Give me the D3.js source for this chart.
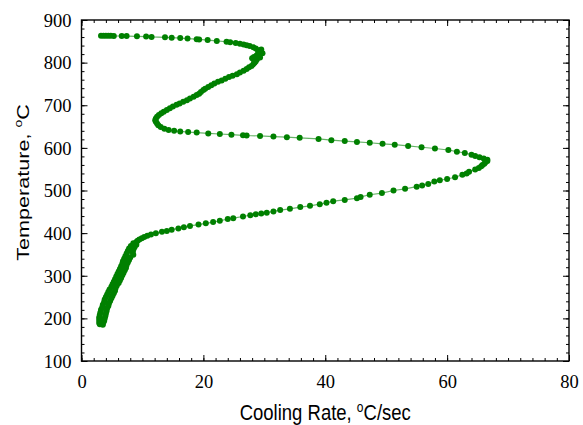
<!DOCTYPE html>
<html>
<head>
<meta charset="utf-8">
<script src="https://cdn.jsdelivr.net/npm/d3@7"></script>
<style>
  html, body { margin: 0; padding: 0; background: #fff; }
  svg { display: block; }
</style>
</head>
<body>
<svg id="chart" width="583" height="425"></svg>
<script>
// ---- Data ----
const coolingRate = [
  3.2,3.6,4.0,4.4,4.8,5.3,6.6,7.4,9.1,10.6,11.5,13.7,14.8,16.2,17.4,18.9,19.3,20.7,22.2,23.8,
  24.4,25.3,26.0,26.6,27.1,27.6,28.2,28.6,29.5,29.0,29.4,29.0,29.7,29.2,28.9,28.7,28.3,29.3,28.0,28.8,
  28.3,28.6,28.4,28.2,27.9,27.5,27.1,26.6,26.0,25.5,24.8,24.2,23.6,23.0,22.4,21.8,21.3,20.8,20.3,20.0,
  19.6,19.3,18.9,18.4,17.8,17.3,16.7,16.1,15.6,15.0,14.5,14.0,13.5,13.1,12.7,12.4,12.2,12.1,12.2,12.4,
  12.6,13.0,13.6,14.3,15.2,16.2,17.5,18.9,20.8,22.7,24.6,26.5,27.1,29.3,31.5,33.7,35.8,38.9,41.0,43.2,
  45.2,47.3,49.4,51.4,53.6,55.8,58.0,60.2,61.6,62.9,64.0,64.6,65.3,66.0,66.6,66.6,66.3,66.1,65.8,65.6,
  65.2,64.6,63.6,63.2,62.5,61.3,60.0,58.8,57.9,56.9,55.9,55.0,53.1,51.2,49.3,47.3,45.8,45.2,43.2,41.3,
  40.2,39.1,37.5,35.9,34.2,32.6,31.5,30.4,29.5,28.6,27.7,26.5,24.9,24.0,22.7,21.6,20.4,19.2,17.8,16.8,
  15.9,14.8,14.0,13.2,12.2,11.4,10.8,10.3,9.9,9.5,9.2,9.0,8.5,9.0,8.1,8.7,7.8,8.5,7.6,8.4,
  7.4,8.5,7.2,8.0,7.0,7.8,6.8,7.6,6.7,7.4,6.5,7.3,6.3,7.1,6.1,6.9,5.9,6.7,5.7,6.5,
  5.5,6.3,5.3,6.1,5.1,5.8,4.9,5.6,4.6,5.5,4.4,5.3,4.2,5.1,4.0,4.9,3.8,4.7,3.7,4.5,
  3.5,4.4,3.4,4.2,3.2,4.1,3.1,4.0,3.0,3.9,2.9,3.8,2.9,3.7,2.9,3.5,3.0,3.5
];
const temperature = [
  863,863,863.2,863,862.8,862.6,862.5,862.3,861.7,861,860.3,859.3,858.5,857.5,856.5,855,854.5,853,851,849,
  848,846,844.5,842.5,841,839,836,833,831,829,826,824,822,819,818,816,813,812,810,808,
  806,803,800,796,792,789,785,781,777,773,769,766,762,758,755,751,747,743,739,736,
  731,727,724,720,716,712,708,704,701,697,693,689,685,681,677,673,669,665,661,657,
  653,649,645,642,640,638.5,637,636,634,632.5,631,629.5,629,628,626.5,625,623.5,621,618,616,
  614,612,609.5,607.5,604.5,601.5,598.5,595,591,588,584,581,578,575,572,569,566,563,560,557,
  553,549,544,540,537,531,527,524,521,515,512,509,504,500,494,490,485,482,478,475,
  471,468,464,461,457,454,451,448,446,444,442,439,435,433,429,426,423,420,417,414,
  411,408,405,403,400,397,394,391,388,385,382,379,376,373,370,367,364,361,358,355,
  352,349,346,343,340,337,334,331,328,325,322,319,316,313,310,307,304,301,298,295,
  292,289,286,283,280,277,274,271,268,265,262,259,256,253,250,247,244,241,238,235,
  232,229,226,223,220,217,214,211,208,205,202,199,196,193,190,188,186,185
];
const xTickLabels = [0, 20, 40, 60, 80];
const yTickLabels = [100, 200, 300, 400, 500, 600, 700, 800, 900];
const xMinorTicks = d3.range(0, 81, 2);
const yMinorTicks = d3.range(100, 901, 20);

(function () {
const points = coolingRate.map((c, i) => ({x: c, y: temperature[i]}));

// ---- Layout ----
const svg = d3.select("#chart");
const pL = 81.5, pR = 569, pT = 20, pB = 361;

const x = d3.scaleLinear().domain([0, 80]).range([pL, pR]);
const y = d3.scaleLinear().domain([100, 900]).range([pB, pT]);

const serif = "'Liberation Serif', 'Times New Roman', serif";
const sans = "'Liberation Sans', Arial, sans-serif";

function drawAxis(axisGen, transform, vals, size, labels) {
  const g = svg.append("g").attr("transform", transform)
    .call(axisGen.tickValues(vals).tickSizeInner(size).tickSizeOuter(0).tickFormat(labels ? d3.format("d") : ""));
  g.select(".domain").remove();
  g.selectAll(".tick line").attr("stroke", "#000").attr("stroke-width", 1);
  return g;
}

// minor ticks (all four sides, pointing inward)
drawAxis(d3.axisBottom(x), `translate(0,${pB})`, xMinorTicks, -3, false);
drawAxis(d3.axisTop(x), `translate(0,${pT})`, xMinorTicks, -3, false);
drawAxis(d3.axisLeft(y), `translate(${pL},0)`, yMinorTicks, -3, false);
drawAxis(d3.axisRight(y), `translate(${pR},0)`, yMinorTicks, -3, false);

// major ticks with labels
const gx = drawAxis(d3.axisBottom(x), `translate(0,${pB})`, xTickLabels, -6, true);
gx.selectAll(".tick text")
  .attr("y", 27).attr("dy", 0)
  .style("font-family", serif).style("font-size", "18.5px").attr("fill", "#000");

const gy = drawAxis(d3.axisLeft(y), `translate(${pL},0)`, yTickLabels, -6, true);
gy.selectAll(".tick text")
  .attr("x", -10).attr("dy", "0.34em")
  .style("font-family", serif).style("font-size", "18.5px").attr("fill", "#000");

drawAxis(d3.axisTop(x), `translate(0,${pT})`, xTickLabels, -6, false);
drawAxis(d3.axisRight(y), `translate(${pR},0)`, yTickLabels, -6, false);

// frame
svg.append("rect")
  .attr("x", pL).attr("y", pT)
  .attr("width", pR - pL).attr("height", pB - pT)
  .attr("fill", "none").attr("stroke", "#000").attr("stroke-width", 1.4);

// ---- Series ----
const line = d3.line().x(d => x(d.x)).y(d => y(d.y));
svg.append("path")
  .datum(points)
  .attr("d", line)
  .attr("fill", "none")
  .attr("stroke", "#008000")
  .attr("stroke-opacity", 0.6)
  .attr("stroke-width", 1.2);

svg.append("g").selectAll("circle")
  .data(points)
  .join("circle")
  .attr("cx", d => x(d.x))
  .attr("cy", d => y(d.y))
  .attr("r", 3)
  .attr("fill", "#008000");

// ---- Axis titles ----
const xt = svg.append("text")
  .attr("transform", `translate(${(pL + pR) / 2},420) scale(1,1.15)`)
  .attr("text-anchor", "middle")
  .style("font-family", sans).style("font-size", "18.5px").attr("fill", "#000");
xt.append("tspan").text("Cooling Rate, ");
xt.append("tspan").attr("dy", -7).style("font-size", "12px").text("o");
xt.append("tspan").attr("dy", 7).text("C/sec");

const yt = svg.append("text")
  .attr("transform", `translate(29,182.5) rotate(-90) scale(1.27,1)`)
  .attr("text-anchor", "middle")
  .style("font-family", sans).style("font-size", "17px").attr("fill", "#000");
yt.append("tspan").text("Temperature, ");
yt.append("tspan").attr("dy", -7).style("font-size", "11px").text("o");
yt.append("tspan").attr("dy", 7).text("C");
})();
</script>
</body>
</html>
